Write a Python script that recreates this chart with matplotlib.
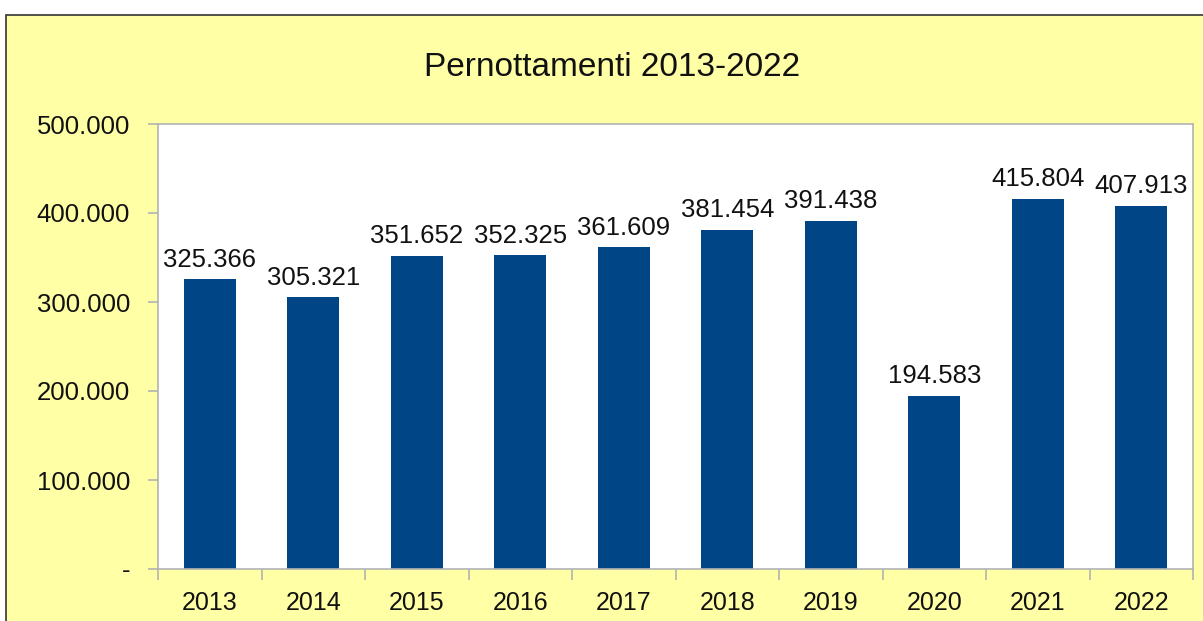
import matplotlib
matplotlib.use("Agg")
import matplotlib.pyplot as plt
from matplotlib.patches import Rectangle
from matplotlib.ticker import FixedLocator, FuncFormatter

years = ["2013", "2014", "2015", "2016", "2017", "2018", "2019", "2020", "2021", "2022"]
values = [325366, 305321, 351652, 352325, 361609, 381454, 391438, 194583, 415804, 407913]
yticks = [0, 100000, 200000, 300000, 400000, 500000]
title = "Pernottamenti 2013-2022"

plt.rcParams['font.family'] = ['Liberation Sans', 'DejaVu Sans']

W, H = 1203, 621
fig = plt.figure(figsize=(W / 100, H / 100), dpi=100)
fig.patch.set_facecolor("white")

# yellow chart background panel
panel = Rectangle((6 / W, -0.05), 1.2, (H - 15) / H + 0.05, transform=fig.transFigure,
                  facecolor="#FFFFA6", edgecolor="#333333", linewidth=1.2, zorder=-5)
fig.patches.append(panel)

left, right, top, bottom = 158, 1193, 124, 569
ax = fig.add_axes([left / W, 1 - bottom / H, (right - left) / W, (bottom - top) / H])
ax.set_zorder(2)
ax.set_facecolor("white")

x = list(range(len(years)))
bars = ax.bar(x, values, width=0.5, color="#004586", zorder=2)
ax.set_xlim(-0.5, len(years) - 0.5)
ax.set_ylim(0, 500000)

def fmt(v, pos=None):
    if v == 0:
        return "-"
    return f"{int(v):,}".replace(",", ".")

for xi, v in zip(x, values):
    ax.annotate(fmt(v), (xi, v), xytext=(0, 5.5), textcoords="offset points",
                ha="center", va="bottom", fontsize=18.5, color="#111111")

ax.yaxis.set_major_locator(FixedLocator(yticks))
ax.yaxis.set_major_formatter(FuncFormatter(fmt))
ax.set_xticks(x)
ax.set_xticklabels(years)
ax.xaxis.set_minor_locator(FixedLocator([i - 0.5 for i in range(len(years) + 1)]))
ax.tick_params(axis="x", which="major", length=0, labelsize=18, pad=16, labelcolor="#111111")
ax.tick_params(axis="x", which="minor", length=8, color="#b3b3b3", width=1.2)
ax.tick_params(axis="y", which="major", length=7.5, color="#b3b3b3", width=1.2,
               labelsize=18.5, pad=12.5, labelcolor="#111111")

for s in ax.spines.values():
    s.set_color("#b3b3b3")
    s.set_linewidth(1.2)

fig.text(612 / W, 1 - 68 / H, title, ha="center", va="center", fontsize=24, color="#111111")

fig.savefig("out.png", dpi=100, facecolor=fig.get_facecolor())
